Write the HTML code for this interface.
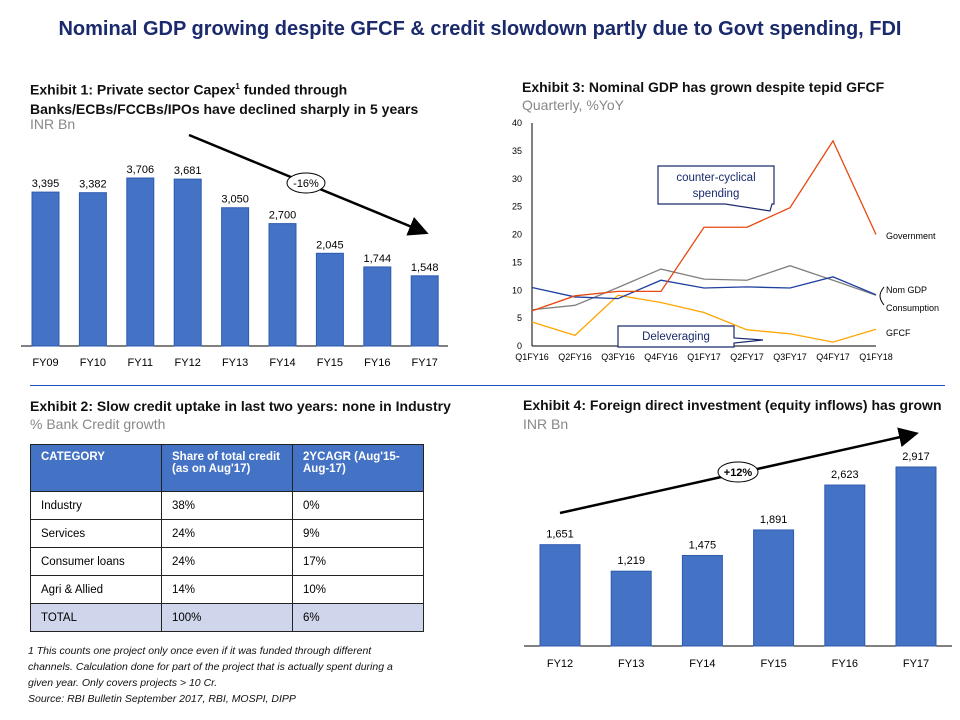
<!DOCTYPE html>
<html><head><meta charset="utf-8"><style>
body{margin:0;background:#fff;font-family:"Liberation Sans",sans-serif}
#page{position:relative;width:960px;height:720px;overflow:hidden}
.t{position:absolute;white-space:nowrap}
.h{font-weight:bold;font-size:14px;color:#111}
.sub{font-size:14px;color:#888}
table{position:absolute;left:30px;top:444px;border-collapse:collapse;font-size:11.5px}
td{border:1.5px solid #222;width:120px;padding:0 0 0 10px;height:27px;vertical-align:middle}
tr.hd td{background:#4472c4;color:#fff;font-weight:bold;height:40px;vertical-align:top;padding-top:6px}
tr.tot td{background:#cfd5ea}
</style></head><body>
<div id="page">
<div class="t" style="left:0;width:960px;text-align:center;top:18px;font-size:20px;font-weight:bold;color:#1a2a6c">Nominal GDP growing despite GFCF &amp; credit slowdown partly due to Govt spending, FDI</div>
<div class="t h" style="left:30px;top:77px;line-height:19px">Exhibit 1: Private sector Capex<sup style="font-size:8px">1</sup> funded through<br>Banks/ECBs/FCCBs/IPOs have declined sharply in 5 years</div>
<div class="t sub" style="left:30px;top:116px">INR Bn</div>
<div class="t h" style="left:522px;top:79px">Exhibit 3: Nominal GDP has grown despite tepid GFCF</div>
<div class="t sub" style="left:522px;top:97px">Quarterly, %YoY</div>
<div style="position:absolute;left:30px;top:385px;width:915px;height:1px;background:#1f4fc0"></div>
<div class="t h" style="left:30px;top:398px">Exhibit 2: Slow credit uptake in last two years: none in Industry</div>
<div class="t sub" style="left:30px;top:416px">% Bank Credit growth</div>
<div class="t h" style="left:523px;top:397px">Exhibit 4: Foreign direct investment (equity inflows) has grown</div>
<div class="t sub" style="left:523px;top:416px">INR Bn</div>
<table>
<tr class="hd"><td>CATEGORY</td><td>Share of total credit<br>(as on Aug'17)</td><td>2YCAGR (Aug'15-<br>Aug-17)</td></tr>
<tr><td>Industry</td><td>38%</td><td>0%</td></tr>
<tr><td>Services</td><td>24%</td><td>9%</td></tr>
<tr><td>Consumer loans</td><td>24%</td><td>17%</td></tr>
<tr><td>Agri &amp; Allied</td><td>14%</td><td>10%</td></tr>
<tr class="tot"><td>TOTAL</td><td>100%</td><td>6%</td></tr>
</table>
<div class="t" style="left:28px;top:643px;font-size:10.5px;font-style:italic;line-height:16px;color:#111">1 This counts one project only once even if it was funded through different<br>channels. Calculation done for part of the project that is actually spent during a<br>given year. Only covers projects &gt; 10 Cr.<br>Source: RBI Bulletin September 2017, RBI, MOSPI, DIPP</div>
<svg id="svg" width="960" height="720" style="position:absolute;left:0;top:0" font-family="Liberation Sans, sans-serif">
<defs><marker id="ah" markerWidth="8" markerHeight="8" refX="6" refY="4" orient="auto"><path d="M0,0 L8,4 L0,8 z" fill="#000"/></marker></defs>
</svg>
</div>
<script>
const e1Cats=["FY09","FY10","FY11","FY12","FY13","FY14","FY15","FY16","FY17"];
const e1Vals=[3395,3382,3706,3681,3050,2700,2045,1744,1548];
const e4Cats=["FY12","FY13","FY14","FY15","FY16","FY17"];
const e4Vals=[1651,1219,1475,1891,2623,2917];
const e3Cats=["Q1FY16","Q2FY16","Q3FY16","Q4FY16","Q1FY17","Q2FY17","Q3FY17","Q4FY17","Q1FY18"];
const e3Gov=[6.3,9,9.8,9.8,21.3,21.3,24.8,36.8,20];
const e3Gdp=[10.5,8.8,8.5,11.8,10.4,10.6,10.4,12.4,9.2];
const e3Cons=[6.5,7.3,10.5,13.8,12,11.8,14.4,11.8,9.1];
const e3Gfcf=[4.3,1.9,9.1,7.8,6,2.9,2.2,0.7,3];
const e3Ticks=[0,5,10,15,20,25,30,35,40];
const NS="http://www.w3.org/2000/svg",svg=document.getElementById('svg');
function mk(t,a,txt){const el=document.createElementNS(NS,t);for(const k in a)el.setAttribute(k,a[k]);if(txt!==undefined)el.textContent=txt;svg.appendChild(el);return el;}
function fmt(v){return v.toLocaleString('en-US');}
// Exhibit 1
const x1=i=>32+i*47.4, y1=v=>346-v*168/3706;
let ax=mk('line',{x1:21,x2:448,y1:346,y2:346,stroke:'#000'});

e1Vals.forEach((v,i)=>{
 const r=mk('rect',{x:x1(i),y:y1(v),width:27,height:346-y1(v),fill:'#4472c4',stroke:'#2f5bb0'});
 
 
 const l=mk('text',{x:x1(i)+13.5,y:y1(v)-5,'text-anchor':'middle','font-size':11},fmt(v));
 
 
 const c=mk('text',{x:x1(i)+13.5,y:366,'text-anchor':'middle','font-size':11},e1Cats[i]);
 
 
});
let a1=mk('line',{x1:189,y1:135,x2:424,y2:232,stroke:'#000','stroke-width':2.5,'marker-end':'url(#ah)'});

let c1=mk('ellipse',{cx:306,cy:183,rx:19,ry:10,fill:'#fff',stroke:'#000'});

let t1=mk('text',{x:306,y:187,'text-anchor':'middle','font-size':11},'-16%');

// Exhibit 4
const x4=i=>540+i*71.2, y4=v=>646-v*179/2917;
let ax4=mk('line',{x1:524,x2:952,y1:646,y2:646,stroke:'#000'});

e4Vals.forEach((v,i)=>{
 const r=mk('rect',{x:x4(i),y:y4(v),width:40,height:646-y4(v),fill:'#4472c4',stroke:'#2f5bb0'});
 
 
 const l=mk('text',{x:x4(i)+20,y:y4(v)-7,'text-anchor':'middle','font-size':11},fmt(v));
 
 
 const c=mk('text',{x:x4(i)+20,y:667,'text-anchor':'middle','font-size':11},e4Cats[i]);
 
 
});
let a4=mk('line',{x1:560,y1:513,x2:914,y2:434,stroke:'#000','stroke-width':2.5,'marker-end':'url(#ah)'});

let c4=mk('ellipse',{cx:738,cy:472,rx:20,ry:10,fill:'#fff',stroke:'#000'});

let t4=mk('text',{x:738,y:476,'text-anchor':'middle','font-size':11,'font-weight':'bold'},'+12%');

// Exhibit 3
const x3=i=>532+i*43, y3=v=>346-v*223/40;
let yl=mk('line',{x1:532,x2:532,y1:123,y2:346,stroke:'#000'});

let xl=mk('line',{x1:532,x2:876,y1:346,y2:346,stroke:'#000'});

e3Ticks.forEach(t=>{
 const el=mk('text',{x:522,y:y3(t)+3,'text-anchor':'end','font-size':9},String(t));
 
 
});
e3Cats.forEach((c,i)=>{
 const el=mk('text',{x:x3(i),y:360,'text-anchor':'middle','font-size':9},c);
 
 
});
function line(arr,col,name){
 const p=mk('polyline',{points:arr.map((v,i)=>x3(i)+','+y3(v)).join(' '),fill:'none',stroke:col,'stroke-width':1.3});
 
 
}
line(e3Cons,'#808080','consumption-line');
line(e3Gfcf,'#ffa500','gfcf-line');
line(e3Gdp,'#1f3fa0','nom-gdp-line');
line(e3Gov,'#e8490f','government-line');
[["Government",236,'government-label'],["Nom GDP",290,'nom-gdp-label'],["Consumption",308,'consumption-label'],["GFCF",333,'gfcf-label']].forEach(d=>{
 const el=mk('text',{x:886,y:d[1]+3,'font-size':9},d[0]);
 
 
});
let br=mk('path',{d:'M884,287 Q880,292 880,296 Q880,300 884,305',fill:'none',stroke:'#000'});

let cb=mk('path',{d:'M658,166 L774,166 L774,204 L772,204 L770,211 L725,204 L658,204 Z',fill:'#fff',stroke:'#1a2a6c','stroke-width':1.2});

let cbt=mk('text',{x:716,y:181,'text-anchor':'middle','font-size':11.5,fill:'#1a2a6c'},'counter-cyclical');

let cbt2=mk('text',{x:716,y:197,'text-anchor':'middle','font-size':11.5,fill:'#1a2a6c'},'spending');

let db=mk('path',{d:'M618,326 L734,326 L734,338 L763,340 L734,343 L734,347 L618,347 Z',fill:'#fff',stroke:'#1a2a6c','stroke-width':1.2});

let dbt=mk('text',{x:676,y:340,'text-anchor':'middle','font-size':11.5,fill:'#1a2a6c'},'Deleveraging');

</script>
</body></html>
